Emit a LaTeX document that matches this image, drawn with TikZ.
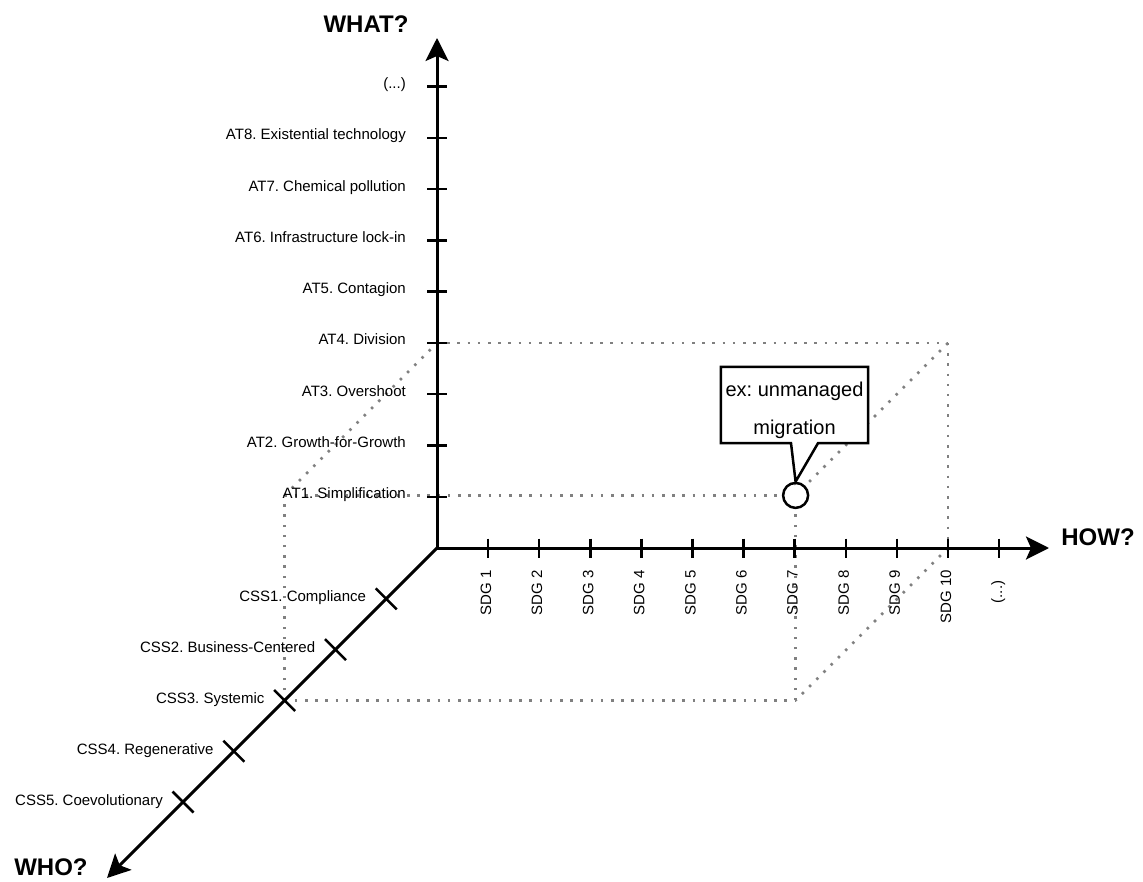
\documentclass[tikz,border=0pt]{standalone}
\usepackage{fontspec}
\setmainfont{Liberation Sans}
\usetikzlibrary{calc,arrows.meta}
\frenchspacing
\begin{document}
\begin{tikzpicture}[x=1pt,y=-1pt,
  axis/.style={line width=3pt, -{Stealth[length=23pt,width=23pt,inset=5pt]}},
  tickmark/.style={line width=2.5pt},
  guide/.style={draw=gray, line width=2.5pt, dash pattern=on 2.5pt off 7.7pt},
  lab/.style={font=\fontsize{15}{18}\selectfont, inner sep=0pt},
  title/.style={font=\fontsize{24}{28}\selectfont\bfseries, inner sep=0pt, anchor=base},
]
\useasboundingbox (0,0) rectangle (1143,882);

\coordinate (O) at (437,548);
\coordinate (wtip) at (437,38);
\coordinate (htip) at (1049,548);
\coordinate (otip) at (107,878);

% tick positions
\foreach \k in {1,...,9} {\coordinate (at\k) at (437,{548-51.25*\k});}
\foreach \k in {1,...,11} {\coordinate (sdg\k) at ({437+51.1*\k},548);}
\foreach \k in {1,...,5} {\coordinate (css\k) at ({437-50.8*\k},{548+50.8*\k});}

% box corners
\coordinate (E) at ($(css3)+(at4)-(O)$);
\coordinate (B) at ($(sdg10)+(at4)-(O)$);
\coordinate (F) at ($(sdg10)+(css3)-(O)$);
\coordinate (G) at ($(F)+(at4)-(O)$);

% dotted guide box
\draw[guide] (E) -- (G);
\draw[guide] (css3) -- (E);
\draw[guide] (E) -- (at4);
\draw[guide] (at4) -- (B);
\draw[guide] (B) -- (sdg10);
\draw[guide] (B) -- (G);
\draw[guide] (sdg10) -- (F);
\draw[guide] (css3) -- (F);
\draw[guide] (F) -- (G);

% axes
\draw[axis] (O) -- (wtip);
\draw[axis] (O) -- (htip);
\draw[axis] (O) -- (otip);

% WHAT ticks and labels
\foreach \k/\t in {1/AT1. Simplification, 2/AT2. Growth-for-Growth, 3/AT3. Overshoot, 4/AT4. Division, 5/AT5. Contagion, 6/AT6. Infrastructure lock-in, 7/AT7. Chemical pollution, 8/AT8. Existential technology, 9/{(...)}} {
  \draw[tickmark] ($(at\k)+(-10,0)$) -- ($(at\k)+(10,0)$);
  \node[lab, anchor=base east] (atl\k) at ($(at\k)+(-31,2)$) {\t};
}

% HOW ticks and labels
\foreach \k in {1,...,11} {
  \draw[tickmark] ($(sdg\k)+(0,-9.5)$) -- ($(sdg\k)+(0,9.5)$);
}
\foreach \k in {1,...,10} {
  \node[lab, rotate=90, anchor=base east] (sdgl\k) at ($(sdg\k)+(3,22)$) {SDG \k};
}
\node[lab, rotate=90, anchor=base] (sdgl11) at ($(sdg11)+(3,44)$) {(...)};

% WHO ticks and labels
\foreach \k/\t in {1/CSS1. Compliance, 2/CSS2. Business-Centered, 3/CSS3. Systemic, 4/CSS4. Regenerative, 5/CSS5. Coevolutionary} {
  \draw[tickmark] ($(css\k)+(-10.5,-10.5)$) -- ($(css\k)+(10.5,10.5)$);
  \node[lab, anchor=base east] (cssl\k) at ($(css\k)+(-20,3)$) {\t};
}

% titles
\node[title] (what) at (366,33) {WHAT?};
\node[title] (how) at (1098,545) {HOW?};
\node[title] (who) at (51,875) {WHO?};

% point and callout
\node[circle, draw, line width=2.5pt, fill=white, minimum size=25pt, inner sep=0pt] (pt) at (G) {};
\node[minimum width=147pt, minimum height=76pt, fill=white, inner sep=0pt] (cb) at (794.5,405) {};
\node[align=center, font=\fontsize{20}{38}\selectfont, inner sep=0pt] (cbt) at ($(cb.center)+(0,5)$) {ex: unmanaged\\migration};
\draw[line width=2.5pt, line join=miter]
  ($(cb.south)+(23.5,0)$) -- (cb.south east) -- (cb.north east) -- (cb.north west)
  -- (cb.south west) -- ($(cb.south)+(-3.5,0)$) -- (pt.north) -- cycle;
\end{tikzpicture}
\end{document}
